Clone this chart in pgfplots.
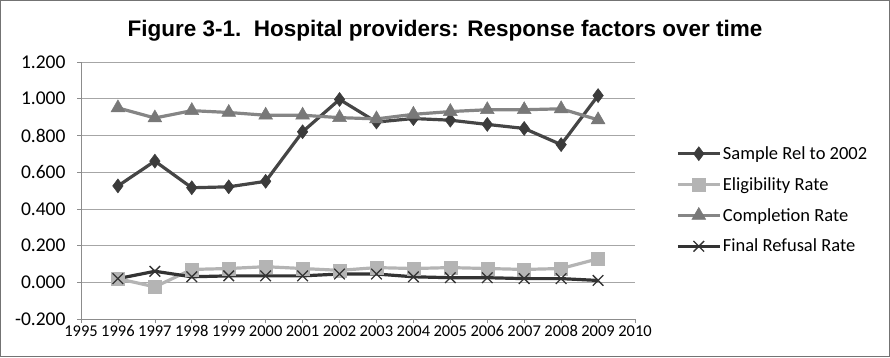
\documentclass[border=0pt]{standalone}
\usepackage{pgfplots}
\pgfplotsset{compat=1.18}
\usepackage{fontspec}
\setmainfont{Carlito}
\newfontfamily\titlefont{Liberation Sans}
\definecolor{cSample}{HTML}{454545}
\definecolor{cElig}{HTML}{B4B4B4}
\definecolor{cComp}{HTML}{858585}
\definecolor{cRef}{HTML}{333333}
\begin{document}
\begin{tikzpicture}
\useasboundingbox (0,0) rectangle (890pt,357pt);
\draw[color=black!55, line width=1.2pt] (0.6pt,0.6pt) rectangle (889.4pt,356.4pt);
\node[font=\titlefont\bfseries\fontsize{22.5}{24}\selectfont] at (445pt,326pt) {Figure 3-1.\ \ Hospital providers: Response factors over time};
\begin{axis}[
  at={(81pt,38pt)}, anchor=south west,
  scale only axis, width=554pt, height=257pt,
  xmin=1995, xmax=2010, ymin=-0.2, ymax=1.2,
  xtick={1995,1996,...,2010},
  ytick={-0.2,0,0.2,0.4,0.6,0.8,1.0,1.2},
  xticklabel style={/pgf/number format/1000 sep={}, font=\fontsize{16.5}{17}\selectfont, yshift=1pt},
  yticklabel style={font=\fontsize{19.5}{20}\selectfont, xshift=-8pt,
    /pgf/number format/fixed, /pgf/number format/fixed zerofill, /pgf/number format/precision=3},
  /pgf/number format/assume math mode=true,
  axis x line*=bottom, axis y line*=left,
  axis line style={color=black!45, line width=0.6pt, -},
  tick style={color=black!45, line width=0.6pt},
  tick align=outside, major tick length=4pt,
  ymajorgrids, grid style={color=black!35, line width=0.6pt},
  clip=false,
  legend style={at={(1.074,0.463)}, anchor=west, draw=none, fill=none,
    font=\fontsize{18.5}{20}\selectfont, row sep=12.5pt, inner sep=0pt,
    nodes={inner xsep=1.5pt}},
  legend cell align=left,
  legend image code/.code={
    \draw[#1, mark repeat=2, mark phase=2] plot coordinates {(0pt,0pt) (21pt,0pt) (42pt,0pt)};},
]
\addplot[color=cSample, line width=3.2pt, mark=diamond*, mark size=7pt, mark options={fill=cSample!85!black, draw=cSample!85!black, line width=0.5pt}] coordinates {
(1996,0.525) (1997,0.660) (1998,0.515) (1999,0.520) (2000,0.550) (2001,0.820) (2002,0.996)
(2003,0.873) (2004,0.892) (2005,0.883) (2006,0.860) (2007,0.838) (2008,0.750) (2009,1.017)};
\addlegendentry{Sample Rel to 2002}
\addplot[color=cElig, line width=3.2pt, mark=square*, mark size=6.5pt, mark options={fill=cElig, draw=cElig, line width=0.5pt}] coordinates {
(1996,0.020) (1997,-0.025) (1998,0.070) (1999,0.075) (2000,0.085) (2001,0.075) (2002,0.065)
(2003,0.080) (2004,0.075) (2005,0.080) (2006,0.075) (2007,0.070) (2008,0.075) (2009,0.128)};
\addlegendentry{Eligibility Rate}
\addplot[color=cComp, line width=3.2pt, mark=triangle*, mark size=8pt, mark options={fill=cComp!90!black, draw=cComp!90!black, line width=0.5pt}] coordinates {
(1996,0.950) (1997,0.895) (1998,0.935) (1999,0.925) (2000,0.910) (2001,0.910) (2002,0.897)
(2003,0.890) (2004,0.915) (2005,0.930) (2006,0.940) (2007,0.940) (2008,0.945) (2009,0.885)};
\addlegendentry{Completion Rate}
\addplot[color=cRef, line width=3.2pt, mark=x, mark size=7.5pt, mark options={line width=1.3pt, draw=cRef}] coordinates {
(1996,0.020) (1997,0.060) (1998,0.030) (1999,0.035) (2000,0.035) (2001,0.035) (2002,0.045)
(2003,0.045) (2004,0.030) (2005,0.025) (2006,0.025) (2007,0.020) (2008,0.020) (2009,0.010)};
\addlegendentry{Final Refusal Rate}
\end{axis}
\end{tikzpicture}
\end{document}
